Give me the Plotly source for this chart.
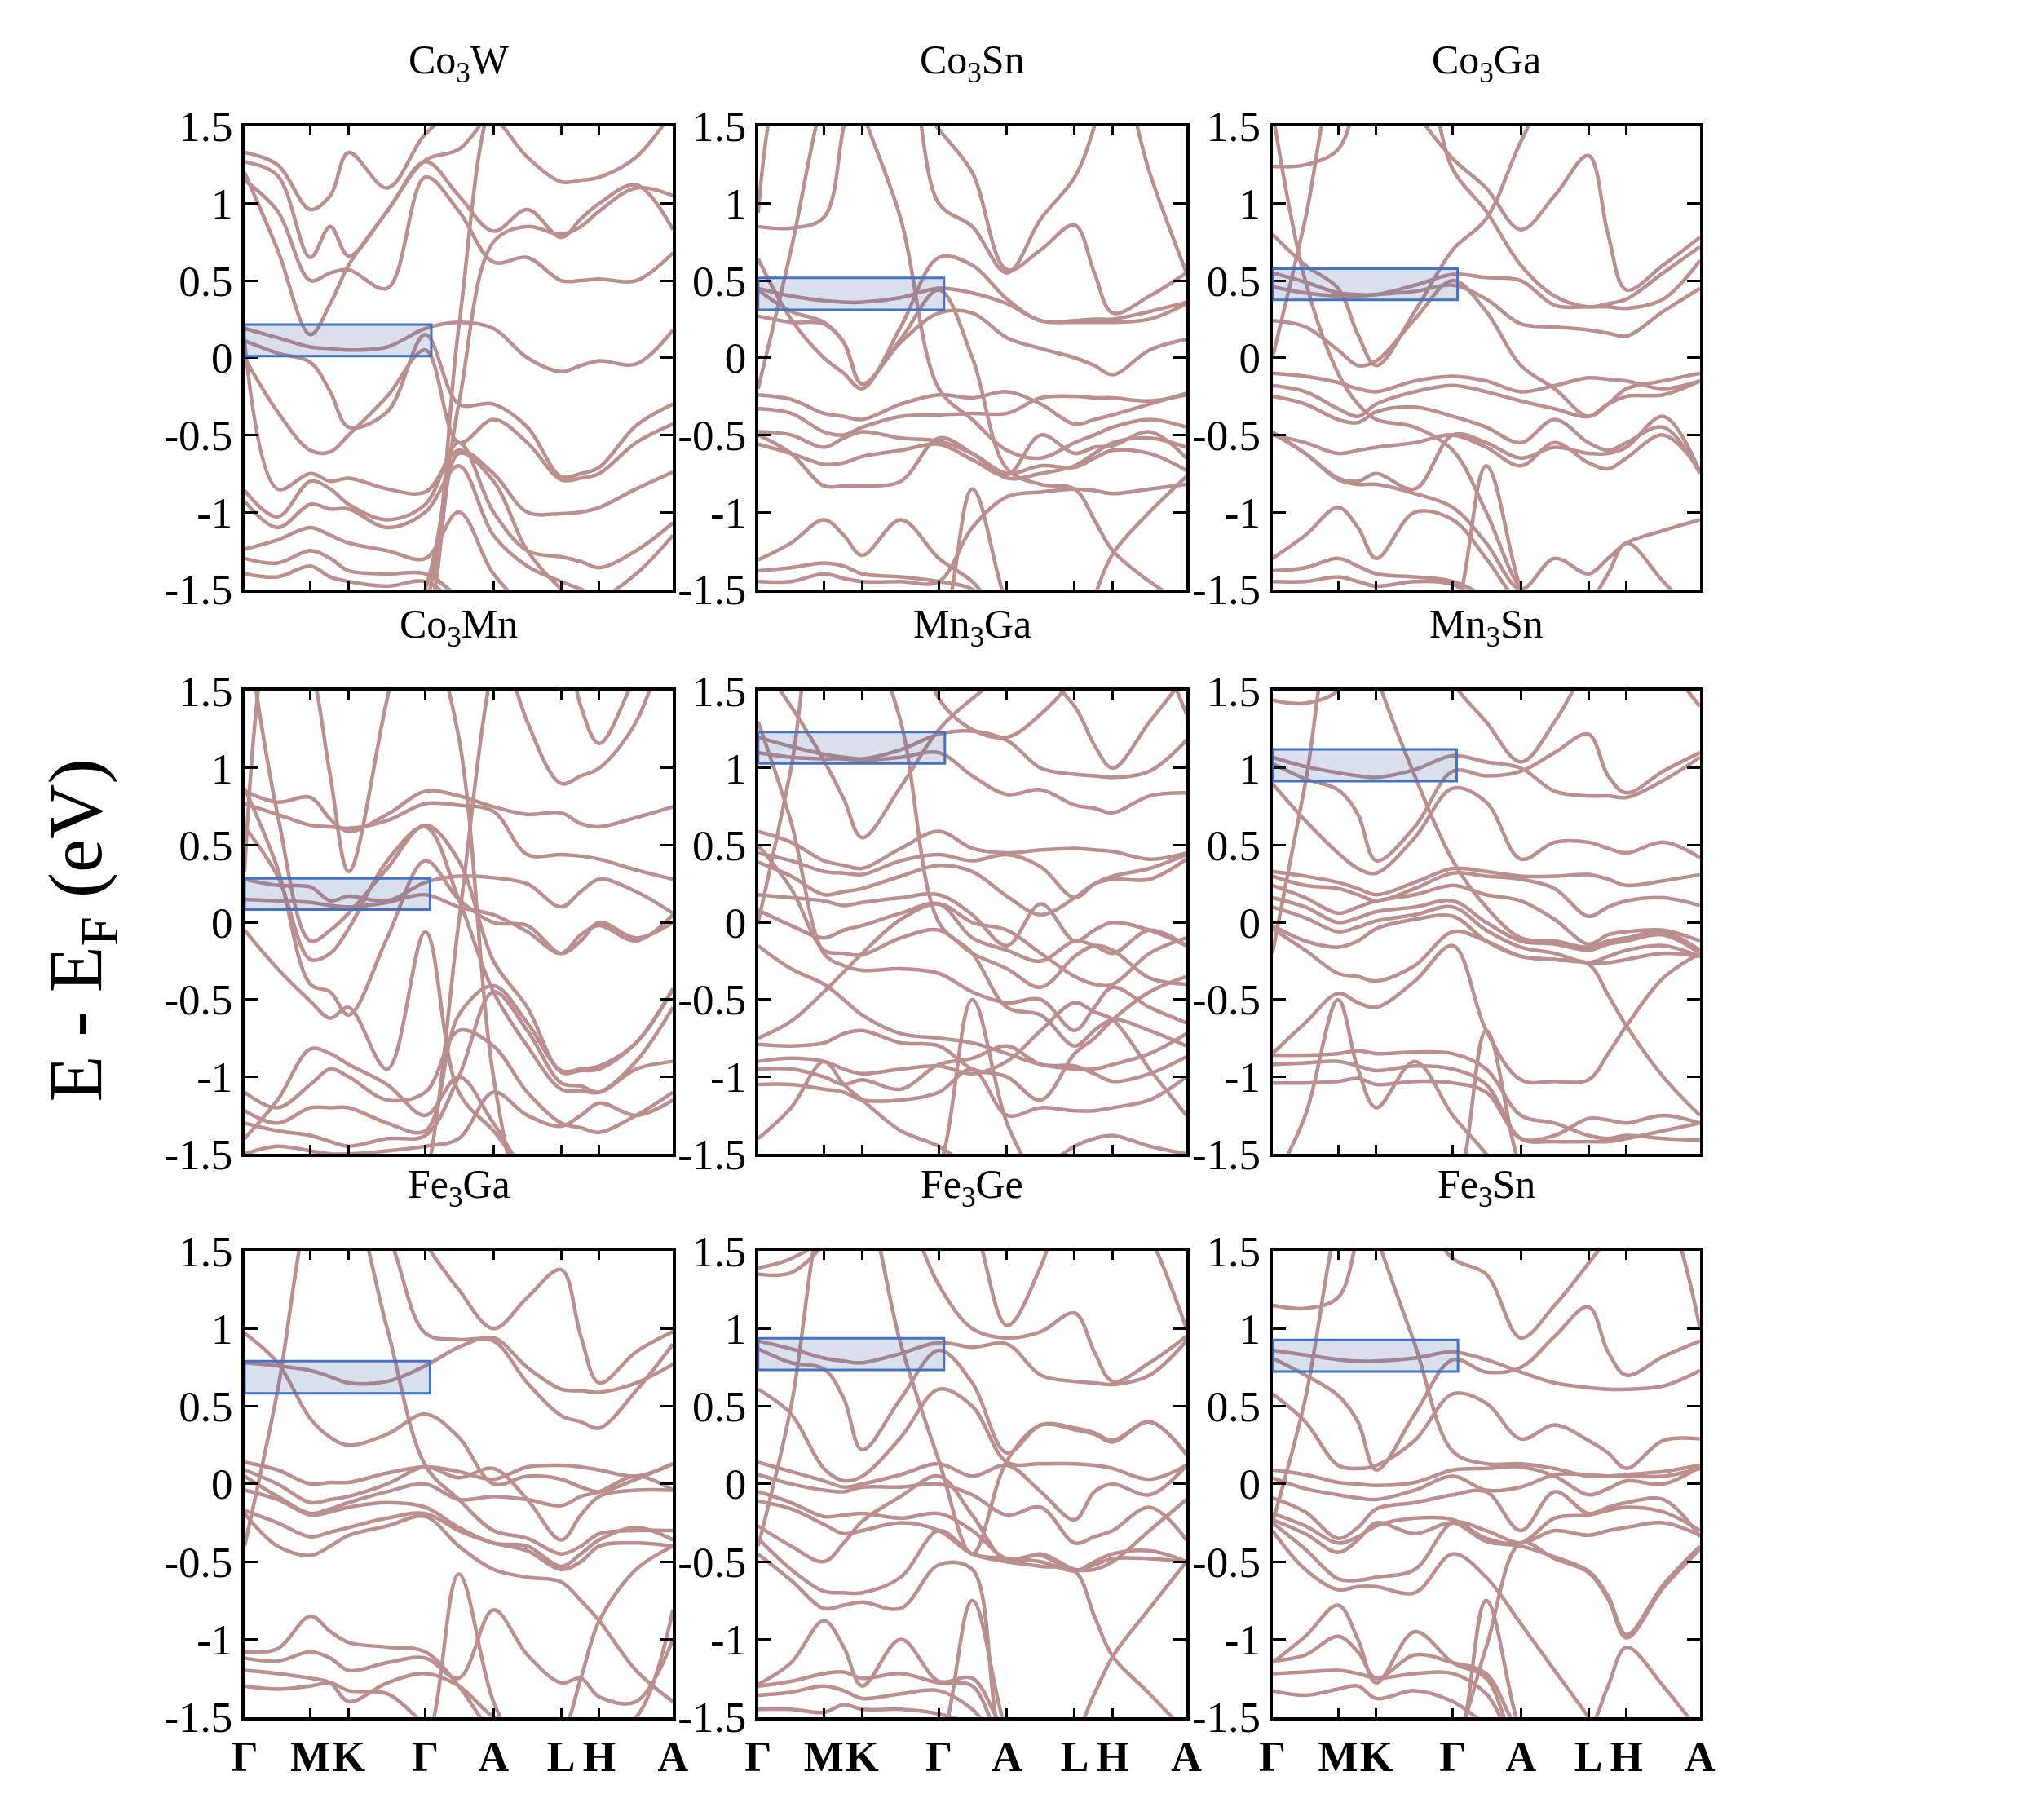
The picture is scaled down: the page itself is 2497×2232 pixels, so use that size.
import plotly.graph_objects as go

# k-path sample points (fraction of path), high-symmetry ticks
kpath = [0, 0.077, 0.1535, 0.2, 0.243, 0.333, 0.422, 0.5, 0.581, 0.66, 0.739, 0.785, 0.828, 0.914, 1.0]
ktick = [0, 0.1535, 0.243, 0.422, 0.581, 0.739, 0.828, 1.0]
klabel = ["Γ", "M", "K", "Γ", "A", "L", "H", "A"]
etick = [-1.5, -1, -0.5, 0, 0.5, 1, 1.5]
elabel = ["-1.5", "-1", "-0.5", "0", "0.5", "1", "1.5"]

titles = ["Co<sub>3</sub>W", "Co<sub>3</sub>Sn", "Co<sub>3</sub>Ga",
          "Co<sub>3</sub>Mn", "Mn<sub>3</sub>Ga", "Mn<sub>3</sub>Sn",
          "Fe<sub>3</sub>Ga", "Fe<sub>3</sub>Ge", "Fe<sub>3</sub>Sn"]

# highlighted box per panel: (k right edge, E bottom, E top)
box_k = [0.436, 0.434, 0.433, 0.433, 0.436, 0.431, 0.433, 0.434, 0.434]
box_lo = [0.01, 0.31, 0.375, 0.083, 1.03, 0.915, 0.583, 0.734, 0.724]
box_hi = [0.215, 0.518, 0.577, 0.285, 1.234, 1.122, 0.79, 0.937, 0.927]

# ---- band energies (eV) at kpath ----
co3w = [
    [1.33, 1.25, 0.96, 1.05, 1.33, 1.10, 1.45, 1.60, 1.55, 1.30, 1.14, 1.15, 1.17, 1.30, 1.60],
    [1.27, 1.18, 0.65, 0.85, 0.66, 0.95, 1.27, 1.05, 0.82, 0.96, 0.78, 0.90, 1.00, 1.12, 0.83],
    [1.15, 0.95, 0.50, 0.55, 0.57, 0.45, 1.17, 0.95, 0.62, 0.65, 0.50, 0.50, 0.51, 0.50, 0.68],
    [1.20, 0.70, 0.15, 0.35, 0.60, 0.95, 1.28, 1.35, 1.60, 1.70, 1.70, 1.70, 1.70, 1.70, 1.70],
    [0.19, 0.13, 0.07, 0.06, 0.05, 0.07, 0.19, 0.23, 0.19, 0.00, -0.09, -0.05, -0.02, -0.04, 0.18],
    [0.11, 0.03, -0.03, -0.22, -0.45, -0.35, 0.15, -0.30, -0.30, -0.45, -0.77, -0.75, -0.71, -0.44, -0.30],
    [0.00, -0.35, -0.60, -0.61, -0.50, -0.25, 0.05, -0.55, -0.40, -0.55, -0.79, -0.78, -0.75, -0.55, -0.43],
    [0.10, -0.85, -0.75, -0.80, -0.78, -0.85, -0.87, -0.60, -0.75, -1.00, -1.01, -1.00, -0.97, -0.85, -0.74],
    [-0.86, -1.03, -0.80, -0.85, -0.95, -1.05, -0.95, -0.55, -1.00, -1.25, -1.29, -1.32, -1.36, -1.25, -1.07],
    [-0.93, -1.10, -0.95, -0.98, -0.98, -1.10, -1.00, -0.70, -1.15, -1.35, -1.45, -1.50, -1.55, -1.40, -1.15],
    [-1.24, -1.18, -1.10, -1.15, -1.20, -1.25, -1.30, -1.00, -1.40, -1.60, -1.60, -1.60, -1.60, -1.60, -1.60],
    [-1.30, -1.33, -1.25, -1.30, -1.38, -1.40, -1.40, -1.55, -1.70, -1.70, -1.70, -1.70, -1.70, -1.70, -1.70],
    [-1.40, -1.42, -1.35, -1.42, -1.45, -1.48, -1.45, -1.60, -1.70, -1.70, -1.70, -1.70, -1.70, -1.70, -1.70],
    [-2.0, -2.0, -2.0, -2.0, -2.0, -2.0, -1.60, 0.20, 1.70, 2.0, 2.0, 2.0, 2.0, 2.0, 2.0],
    [-2.0, -2.0, -2.0, -2.0, -2.0, -2.0, -1.50, -0.30, 0.75, 0.85, 0.80, 0.85, 0.95, 1.10, 1.05],
    [-1.9, -1.9, -1.9, -1.9, -1.9, -1.9, -1.70, -0.62, -0.80, -1.25, -1.50, -1.60, -1.70, -1.70, -1.70],
]

co3sn = [
    [0.45, 0.40, 0.37, 0.36, 0.36, 0.39, 0.45, 0.42, 0.35, 0.24, 0.23, 0.23, 0.23, 0.25, 0.35],
    [0.44, 0.30, 0.23, 0.10, -0.17, 0.12, 0.44, 0.00, -0.72, -0.82, -0.85, -1.05, -1.25, -1.45, -1.60],
    [0.85, 0.84, 0.91, 1.50, 2.00, 2.00, 2.00, 1.80, 1.60, 1.80, 2.00, 2.00, 2.00, 2.00, 2.00],
    [0.27, 0.23, 0.22, 0.10, -0.17, 0.10, 0.29, 0.29, 0.13, 0.06, 0.00, -0.05, -0.11, 0.05, 0.12],
    [0.64, 0.25, 0.00, -0.10, -0.20, 0.20, 0.65, 0.60, 0.38, 0.24, 0.24, 0.25, 0.25, 0.30, 0.36],
    [-0.24, -0.27, -0.36, -0.38, -0.40, -0.30, -0.24, -0.26, -0.22, -0.30, -0.43, -0.40, -0.37, -0.30, -0.23],
    [-0.33, -0.36, -0.48, -0.50, -0.45, -0.38, -0.37, -0.36, -0.36, -0.26, -0.25, -0.26, -0.26, -0.28, -0.24],
    [-0.48, -0.50, -0.58, -0.52, -0.48, -0.52, -0.54, -0.62, -0.75, -0.70, -0.71, -0.65, -0.60, -0.62, -0.73],
    [-0.56, -0.62, -0.69, -0.68, -0.64, -0.60, -0.56, -0.66, -0.76, -0.50, -0.62, -0.58, -0.57, -0.48, -0.65],
    [-0.50, -0.62, -0.83, -0.83, -0.83, -0.80, -0.52, -0.62, -0.78, -0.75, -0.70, -0.62, -0.55, -0.52, -0.58],
    [-1.31, -1.20, -1.05, -1.15, -1.28, -1.05, -1.30, -1.45, -1.70, -1.70, -1.70, -1.70, -1.70, -1.70, -1.70],
    [-1.38, -1.36, -1.33, -1.35, -1.40, -1.42, -1.45, -1.50, -1.70, -1.70, -1.90, -1.55, -1.27, -1.00, -0.77],
    [-1.45, -1.45, -1.40, -1.43, -1.45, -1.45, -1.45, -1.10, -0.90, -0.87, -0.85, -0.86, -0.88, -0.85, -0.82],
    [-0.20, 0.70, 1.70, 2.00, 2.00, 2.00, 2.00, 2.00, 2.00, 2.00, 2.00, 2.00, 2.00, 2.00, 2.00],
    [2.00, 2.00, 2.00, 2.00, 1.60, 0.90, -0.20, -0.40, -0.60, -0.65, -0.55, -0.50, -0.45, -0.40, -0.45],
    [2.00, 2.00, 2.00, 2.00, 2.00, 1.80, 1.48, 1.20, 0.57, 0.70, 0.86, 0.55, 0.29, 0.40, 0.55],
    [1.60, 1.90, 2.00, 2.00, 2.00, 2.00, 1.00, 0.85, 0.55, 0.90, 1.17, 1.50, 2.00, 1.20, 0.55],
    [0.94, 2.00, 2.00, 2.00, 2.00, 2.00, 2.00, 2.00, 2.00, 2.00, 2.00, 2.00, 2.00, 2.00, 2.00],
    [-2.0, -2.0, -2.0, -2.0, -2.0, -2.0, -1.80, -0.85, -1.60, -2.0, -2.0, -2.0, -2.0, -2.0, -2.0],
]

co3ga = [
    [0.55, 0.49, 0.42, 0.41, 0.41, 0.47, 0.54, 0.52, 0.50, 0.34, 0.33, 0.33, 0.32, 0.38, 0.63],
    [0.46, 0.42, 0.40, 0.40, 0.41, 0.43, 0.47, 0.38, 0.22, 0.20, 0.18, 0.16, 0.14, 0.30, 0.45],
    [0.24, 0.20, 0.05, -0.05, -0.02, 0.25, 0.50, 0.30, -0.05, -0.20, -0.38, -0.30, -0.20, -0.15, -0.10],
    [-0.10, -0.12, -0.16, -0.20, -0.22, -0.15, -0.12, -0.15, -0.22, -0.18, -0.13, -0.14, -0.15, -0.20, -0.15],
    [-0.18, -0.22, -0.33, -0.38, -0.30, -0.22, -0.18, -0.22, -0.28, -0.33, -0.38, -0.30, -0.25, -0.24, -0.15],
    [-0.25, -0.30, -0.40, -0.42, -0.35, -0.32, -0.38, -0.45, -0.55, -0.40, -0.55, -0.60, -0.55, -0.45, -0.75],
    [-0.50, -0.55, -0.62, -0.60, -0.58, -0.55, -0.50, -0.58, -0.70, -0.55, -0.68, -0.72, -0.65, -0.50, -0.73],
    [-0.48, -0.62, -0.78, -0.80, -0.75, -0.85, -0.50, -0.55, -0.65, -0.58, -0.62, -0.62, -0.58, -0.38, -0.74],
    [-0.49, -0.62, -0.79, -0.82, -0.82, -0.88, -0.97, -1.20, -1.50, -1.30, -1.40, -1.30, -1.20, -1.12, -1.05],
    [-1.30, -1.15, -0.97, -1.10, -1.30, -1.00, -1.05, -1.30, -1.60, -1.70, -1.70, -1.70, -1.70, -1.70, -1.70],
    [-1.38, -1.36, -1.30, -1.35, -1.40, -1.42, -1.45, -1.55, -1.70, -1.80, -1.60, -1.40, -1.20, -1.45, -1.70],
    [-1.45, -1.45, -1.42, -1.45, -1.48, -1.45, -1.47, -1.60, -1.70, -1.70, -1.70, -1.70, -1.70, -1.70, -1.70],
    [1.24, 1.25, 1.35, 1.70, 2.00, 2.00, 2.00, 2.00, 2.00, 2.00, 2.00, 2.00, 2.00, 2.00, 2.00],
    [1.60, 0.50, -0.10, -0.30, -0.40, -0.45, -0.60, -1.00, -1.50, -1.70, -1.70, -1.70, -1.70, -1.70, -1.70],
    [0.00, 0.90, 1.90, 2.00, 2.00, 2.00, 2.00, 2.00, 2.00, 2.00, 2.00, 2.00, 2.00, 2.00, 2.00],
    [2.00, 2.00, 2.00, 2.00, 2.00, 1.60, 1.29, 1.10, 0.83, 1.05, 1.31, 0.80, 0.44, 0.60, 0.78],
    [2.00, 2.00, 2.00, 2.00, 2.00, 2.00, 1.22, 0.95, 0.60, 0.40, 0.33, 0.35, 0.38, 0.55, 0.72],
    [0.80, 0.60, 0.45, 0.15, -0.05, 0.30, 0.70, 0.90, 1.40, 1.80, 2.00, 2.00, 2.00, 2.00, 2.00],
    [-2.0, -2.0, -2.0, -2.0, -2.0, -2.0, -1.70, -0.70, -1.50, -2.0, -2.0, -2.0, -2.0, -2.0, -2.0],
]

co3mn = [
    [0.28, 0.24, 0.23, 0.14, 0.17, 0.14, 0.26, 0.30, 0.29, 0.25, 0.10, 0.20, 0.28, 0.20, 0.06],
    [0.15, 0.14, 0.13, 0.11, 0.10, 0.13, 0.18, 0.10, 0.05, -0.06, -0.20, -0.08, -0.02, -0.12, 0.05],
    [0.85, 0.78, 0.81, 0.67, 0.59, 0.70, 0.85, 0.82, 0.75, 0.70, 0.71, 0.64, 0.62, 0.68, 0.75],
    [0.77, 0.70, 0.63, 0.62, 0.61, 0.66, 0.77, 0.76, 0.72, 0.44, 0.44, 0.43, 0.41, 0.34, 0.28],
    [3.00, 2.30, 1.70, 0.95, 0.33, 1.45, 2.50, 2.50, 2.50, 2.50, 2.50, 2.50, 2.50, 2.50, 2.50],
    [0.33, 2.20, 2.50, 2.50, 2.50, 2.50, 2.50, 2.50, 2.50, 2.50, 2.50, 2.50, 2.50, 2.50, 2.50],
    [2.00, 0.70, -0.12, -0.05, 0.06, 0.35, 0.63, 0.40, -0.25, -0.55, -0.97, -0.96, -0.95, -0.78, -0.43],
    [0.62, 0.30, -0.24, -0.20, -0.04, 0.40, 0.62, 0.15, -0.45, -0.80, -1.08, -1.09, -1.10, -0.90, -0.55],
    [0.87, 0.35, -0.40, -0.45, -0.60, -0.10, 0.40, 0.15, 0.00, -0.02, -0.20, -0.12, 0.00, -0.10, 0.00],
    [-0.05, -0.30, -0.51, -0.62, -0.55, -0.95, -0.06, -1.10, -1.35, -1.60, -1.60, -1.60, -1.60, -1.60, -1.60],
    [-1.40, -1.15, -0.82, -0.85, -0.92, -1.05, -1.25, -1.00, -1.30, -1.60, -1.60, -1.60, -1.60, -1.60, -1.60],
    [-1.10, -1.20, -1.05, -0.95, -1.00, -1.15, -1.10, -0.70, -0.80, -1.10, -1.30, -1.33, -1.36, -1.25, -1.10],
    [-1.22, -1.30, -1.20, -1.20, -1.20, -1.30, -1.35, -0.60, -0.41, -0.65, -0.96, -0.95, -0.93, -0.78, -0.43],
    [-1.30, -1.35, -1.38, -1.42, -1.45, -1.40, -1.38, -1.00, -0.45, -0.70, -1.04, -1.06, -1.10, -0.95, -0.90],
    [-1.50, -1.45, -1.48, -1.50, -1.50, -1.48, -1.45, -1.40, -1.10, -1.25, -1.32, -1.25, -1.17, -1.25, -1.15],
    [-2.5, -2.5, -2.5, -2.5, -2.5, -2.5, -1.70, 0.00, 1.70, 2.50, 2.50, 2.50, 2.50, 2.50, 2.50],
    [2.5, 2.5, 2.5, 2.5, 2.5, 2.5, 2.00, 1.20, -1.00, -2.00, -2.50, -2.50, -2.50, -2.50, -2.50],
    [2.5, 2.5, 2.5, 2.5, 2.5, 2.5, 2.50, 2.50, 2.00, 1.30, 0.90, 0.95, 1.00, 1.30, 2.00],
    [2.5, 2.5, 2.5, 2.5, 2.5, 2.5, 2.50, 2.50, 2.50, 2.50, 2.00, 1.40, 1.16, 1.60, 2.00],
]

mn3ga = [
    [1.20, 1.14, 1.09, 1.07, 1.06, 1.12, 1.22, 1.24, 1.18, 1.00, 0.96, 0.95, 0.94, 0.98, 1.18],
    [1.10, 1.07, 1.06, 1.06, 1.05, 1.07, 1.10, 0.95, 0.83, 0.86, 0.76, 0.74, 0.71, 0.82, 0.84],
    [1.70, 1.40, 1.05, 0.80, 0.55, 0.88, 1.25, 1.45, 1.60, 1.60, 1.40, 1.15, 1.00, 1.30, 1.60],
    [0.59, 0.52, 0.40, 0.37, 0.35, 0.48, 0.59, 0.48, 0.45, 0.47, 0.48, 0.47, 0.46, 0.41, 0.45],
    [0.45, 0.40, 0.33, 0.32, 0.31, 0.40, 0.44, 0.40, 0.44, 0.36, 0.16, 0.25, 0.30, 0.35, 0.44],
    [0.39, 0.30, 0.18, 0.20, 0.22, 0.30, 0.37, 0.33, 0.17, 0.05, 0.16, 0.25, 0.28, 0.28, 0.41],
    [0.18, 0.16, 0.14, 0.11, 0.13, 0.16, 0.18, 0.05, -0.15, 0.12, -0.12, -0.05, 0.00, -0.05, -0.15],
    [0.08, -0.02, -0.10, -0.05, -0.02, 0.06, 0.12, -0.10, -0.18, -0.25, -0.12, -0.15, -0.20, -0.05, -0.15],
    [0.50, 0.22, -0.18, -0.20, -0.21, -0.10, -0.05, -0.20, -0.30, -0.42, -0.22, -0.15, -0.18, -0.36, -0.40],
    [1.30, 0.65, -0.20, -0.28, -0.31, -0.30, -0.33, -0.45, -0.52, -0.50, -0.70, -0.55, -0.42, -0.55, -0.65],
    [-0.75, -0.64, -0.45, -0.32, -0.20, 0.02, 0.12, 0.00, -0.05, -0.20, -0.35, -0.40, -0.40, -0.20, -0.10],
    [-0.15, -0.30, -0.40, -0.50, -0.60, -0.72, -0.75, -0.78, -0.85, -0.92, -0.95, -0.95, -0.92, -0.85, -0.72],
    [-0.79, -0.80, -0.78, -0.72, -0.70, -0.78, -0.80, -0.95, -1.00, -1.15, -0.85, -0.75, -0.63, -0.45, -0.35],
    [-0.90, -0.88, -0.90, -0.95, -0.98, -0.95, -0.93, -0.98, -0.90, -0.70, -0.52, -0.58, -0.63, -0.95, -1.25],
    [-0.95, -0.95, -1.00, -1.05, -1.02, -1.08, -0.92, -0.88, -0.80, -0.92, -0.93, -0.98, -1.03, -0.98, -0.87],
    [-1.05, -1.05, -1.08, -1.10, -1.15, -1.15, -1.10, -0.95, -1.25, -1.20, -1.22, -1.22, -1.20, -1.15, -1.00],
    [-1.40, -1.20, -0.90, -1.05, -1.15, -1.35, -1.45, -1.60, -1.70, -1.60, -1.45, -1.40, -1.38, -1.45, -1.50],
    [-2.0, -2.0, -2.0, -2.0, -2.0, -2.0, -1.60, -0.50, -1.30, -1.70, -1.90, -1.90, -1.90, -1.90, -1.90],
    [0.00, 1.00, 2.20, 2.20, 2.20, 2.20, 2.20, 2.20, 2.20, 2.20, 2.20, 2.20, 2.20, 2.20, 2.20],
    [2.20, 2.20, 2.20, 2.20, 2.00, 1.30, 0.00, -0.20, -0.55, -0.60, -0.80, -0.70, -0.63, -0.70, -0.80],
    [2.20, 2.20, 2.20, 2.20, 2.20, 2.20, 1.45, 1.25, 1.20, 1.35, 1.60, 1.90, 1.90, 1.80, 1.35],
]

mn3sn = [
    [1.07, 1.01, 0.97, 0.95, 0.94, 0.99, 1.08, 1.04, 1.00, 0.85, 0.82, 0.82, 0.81, 0.92, 1.07],
    [1.03, 0.93, 0.86, 0.70, 0.40, 0.62, 0.98, 0.95, 0.98, 1.10, 1.22, 0.95, 0.84, 0.98, 1.10],
    [0.90, 0.66, 0.45, 0.35, 0.32, 0.55, 0.87, 0.78, 0.41, 0.52, 0.52, 0.48, 0.45, 0.52, 0.42],
    [0.33, 0.30, 0.26, 0.22, 0.18, 0.26, 0.35, 0.33, 0.30, 0.30, 0.31, 0.28, 0.24, 0.27, 0.31],
    [0.30, 0.24, 0.22, 0.18, 0.14, 0.22, 0.32, 0.30, 0.28, 0.22, 0.04, 0.10, 0.14, 0.16, 0.11],
    [0.24, 0.16, 0.06, 0.10, 0.14, 0.18, 0.24, 0.18, 0.14, 0.02, -0.14, -0.08, -0.06, -0.05, -0.12],
    [0.16, 0.10, 0.00, 0.03, 0.07, 0.10, 0.14, 0.00, -0.12, -0.14, -0.18, -0.14, -0.12, -0.08, -0.20],
    [0.10, 0.03, -0.06, -0.03, 0.01, 0.05, 0.10, -0.05, -0.16, -0.20, -0.26, -0.22, -0.18, -0.15, -0.22],
    [-0.02, -0.12, -0.16, -0.12, -0.04, 0.02, 0.04, -0.12, -0.22, -0.24, -0.26, -0.26, -0.24, -0.20, -0.22],
    [-0.04, -0.18, -0.33, -0.35, -0.38, -0.28, -0.06, -0.12, -0.22, -0.24, -0.27, -0.47, -0.67, -1.00, -1.25],
    [-0.85, -0.65, -0.46, -0.52, -0.55, -0.38, -0.15, -0.70, -1.02, -1.03, -1.02, -0.85, -0.67, -0.36, -0.20],
    [-0.86, -0.86, -0.85, -0.83, -0.85, -0.84, -0.85, -0.95, -1.25, -1.30, -1.38, -1.40, -1.38, -1.40, -1.41],
    [-0.92, -0.91, -0.90, -0.93, -0.96, -0.93, -0.95, -1.05, -1.40, -1.42, -1.42, -1.42, -1.40, -1.35, -1.30],
    [-1.04, -1.04, -1.03, -1.01, -1.05, -1.03, -1.04, -1.10, -1.40, -1.38, -1.27, -1.28, -1.30, -1.25, -1.30],
    [-1.70, -1.25, -0.50, -0.95, -1.20, -0.90, -1.25, -1.50, -1.80, -1.80, -1.80, -1.80, -1.80, -1.80, -1.80],
    [-2.0, -2.0, -2.0, -2.0, -2.0, -2.0, -1.80, -0.70, -1.60, -2.0, -2.0, -2.0, -2.0, -2.0, -2.0],
    [-0.20, 0.90, 2.00, 2.00, 2.00, 2.00, 2.00, 2.00, 2.00, 2.00, 2.00, 2.00, 2.00, 2.00, 2.00],
    [2.00, 2.00, 2.00, 2.00, 1.60, 0.95, 0.40, 0.10, -0.10, -0.12, -0.16, -0.12, -0.10, -0.06, -0.18],
    [1.44, 1.42, 1.50, 1.70, 2.00, 2.00, 2.00, 2.00, 2.00, 2.00, 2.00, 2.00, 2.00, 2.00, 2.00],
    [2.00, 2.00, 2.00, 2.00, 2.00, 2.00, 1.55, 1.30, 1.04, 1.30, 1.70, 2.00, 2.00, 1.70, 1.40],
]

fe3ga = [
    [0.78, 0.76, 0.73, 0.69, 0.65, 0.66, 0.76, 0.88, 0.94, 0.75, 0.61, 0.60, 0.59, 0.65, 0.77],
    [0.97, 0.78, 0.42, 0.30, 0.25, 0.32, 0.45, 0.30, 0.00, 0.05, 0.03, -0.02, -0.05, 0.03, 0.13],
    [0.14, 0.09, 0.00, 0.01, 0.01, 0.07, 0.11, 0.08, 0.03, 0.11, 0.12, 0.11, 0.09, 0.05, 0.13],
    [0.09, 0.00, -0.12, -0.10, -0.08, 0.00, 0.11, 0.04, 0.10, -0.10, -0.36, -0.20, -0.08, -0.04, -0.04],
    [0.05, -0.08, -0.19, -0.16, -0.12, -0.05, 0.00, -0.10, -0.08, -0.10, -0.14, -0.08, -0.05, 0.05, -0.04],
    [-0.04, -0.10, -0.20, -0.18, -0.15, -0.12, -0.15, -0.28, -0.38, -0.40, -0.53, -0.45, -0.36, -0.28, -0.36],
    [-0.17, -0.25, -0.34, -0.31, -0.28, -0.22, -0.19, -0.30, -0.38, -0.43, -0.55, -0.50, -0.40, -0.38, -0.40],
    [-0.19, -0.40, -0.46, -0.40, -0.33, -0.27, -0.21, -0.40, -0.55, -0.60, -0.63, -0.75, -0.88, -1.20, -1.40],
    [-1.08, -1.06, -0.85, -0.95, -1.02, -1.05, -1.08, -1.30, -1.60, -1.70, -1.60, -1.25, -0.88, -0.55, -0.40],
    [-1.12, -1.14, -1.08, -1.12, -1.20, -1.15, -1.12, -1.25, -0.81, -1.10, -1.28, -1.25, -1.37, -1.40, -1.00],
    [-1.20, -1.22, -1.25, -1.28, -1.40, -1.28, -1.22, -1.30, -1.50, -1.60, -1.70, -1.70, -1.60, -1.50, -0.81],
    [-1.30, -1.32, -1.30, -1.28, -1.33, -1.35, -1.55, -1.70, -1.70, -1.70, -1.70, -1.70, -1.70, -1.70, -1.70],
    [-2.0, -2.0, -2.0, -2.0, -2.0, -2.0, -1.70, -0.58, -1.40, -1.80, -2.0, -2.0, -2.0, -2.0, -2.0],
    [-0.40, 0.60, 1.80, 2.00, 2.00, 2.00, 2.00, 2.00, 2.00, 2.00, 2.00, 2.00, 2.00, 2.00, 2.00],
    [2.00, 2.00, 2.00, 2.00, 1.90, 1.00, 0.12, -0.10, -0.30, -0.35, -0.45, -0.40, -0.32, -0.30, -0.30],
    [2.00, 2.00, 2.00, 2.00, 2.00, 2.00, 1.55, 1.25, 1.00, 1.20, 1.38, 0.95, 0.65, 0.85, 0.98],
    [1.90, 1.90, 1.90, 1.90, 1.90, 1.60, 0.97, 0.93, 0.92, 0.65, 0.44, 0.40, 0.36, 0.60, 0.90],
]

fe3ge = [
    [0.92, 0.87, 0.81, 0.79, 0.78, 0.84, 0.91, 0.88, 0.90, 0.70, 0.66, 0.65, 0.64, 0.70, 0.92],
    [0.87, 0.78, 0.74, 0.55, 0.22, 0.55, 0.86, 0.65, 0.20, 0.38, 0.35, 0.32, 0.27, 0.40, 0.19],
    [0.61, 0.45, 0.10, 0.02, 0.05, 0.30, 0.61, 0.50, 0.14, 0.13, 0.13, 0.12, 0.10, 0.03, 0.12],
    [0.14, 0.08, 0.02, -0.02, 0.00, 0.06, 0.13, 0.05, 0.12, -0.05, -0.23, -0.05, 0.00, -0.07, 0.12],
    [0.06, 0.00, -0.04, -0.05, -0.02, -0.02, 0.00, -0.07, -0.20, -0.15, -0.38, -0.34, -0.30, -0.15, -0.36],
    [-0.05, -0.12, -0.21, -0.20, -0.19, -0.22, -0.19, -0.30, -0.48, -0.46, -0.56, -0.50, -0.45, -0.43, -0.50],
    [-0.11, -0.16, -0.26, -0.32, -0.30, -0.25, -0.30, -0.45, -0.48, -0.50, -0.56, -0.52, -0.48, -0.48, -0.50],
    [-0.27, -0.40, -0.50, -0.38, -0.24, -0.08, 0.05, -0.20, -0.50, -0.45, -0.55, -0.55, -0.50, -0.30, -0.10],
    [-0.35, -0.55, -0.69, -0.70, -0.70, -0.60, -0.30, -0.45, -0.50, -0.53, -0.56, -0.85, -1.11, -1.35, -1.60],
    [-0.45, -0.62, -0.80, -0.78, -0.76, -0.80, -0.52, -0.55, -1.70, -1.70, -1.60, -1.35, -1.11, -0.80, -0.50],
    [-1.29, -1.15, -0.88, -1.05, -1.30, -1.00, -1.27, -1.25, -1.60, -1.70, -1.70, -1.70, -1.70, -1.70, -1.70],
    [-1.30, -1.27, -1.22, -1.21, -1.25, -1.22, -1.28, -1.30, -1.70, -1.70, -1.70, -1.70, -1.70, -1.70, -1.70],
    [-1.36, -1.34, -1.30, -1.33, -1.38, -1.35, -1.33, -1.45, -1.70, -1.70, -1.70, -1.70, -1.70, -1.70, -1.70],
    [-1.45, -1.45, -1.47, -1.42, -1.45, -1.45, -1.48, -1.55, -1.70, -1.70, -1.70, -1.70, -1.70, -1.70, -1.70],
    [-2.0, -2.0, -2.0, -2.0, -2.0, -2.0, -1.70, -0.75, -1.60, -2.0, -2.0, -2.0, -2.0, -2.0, -2.0],
    [-0.40, 0.50, 1.80, 2.00, 2.00, 2.00, 2.00, 2.00, 2.00, 2.00, 2.00, 2.00, 2.00, 2.00, 2.00],
    [1.39, 1.45, 1.60, 2.00, 2.00, 2.00, 2.00, 2.00, 2.00, 2.00, 2.00, 2.00, 2.00, 2.00, 2.00],
    [1.35, 1.36, 1.55, 1.80, 2.00, 2.00, 2.00, 2.00, 2.00, 2.00, 2.00, 2.00, 2.00, 2.00, 2.00],
    [2.00, 2.00, 2.00, 2.00, 1.90, 0.90, 0.15, -0.45, 0.15, 0.38, 0.36, 0.33, 0.28, 0.40, 0.19],
    [2.00, 2.00, 2.00, 2.00, 2.00, 1.80, 1.28, 1.00, 0.94, 0.98, 1.10, 0.85, 0.66, 0.78, 0.95],
    [2.00, 2.00, 2.00, 2.00, 2.00, 2.00, 2.00, 1.70, 1.02, 1.40, 2.00, 2.00, 2.00, 1.60, 1.00],
]

fe3sn = [
    [0.86, 0.83, 0.80, 0.79, 0.79, 0.81, 0.85, 0.80, 0.72, 0.65, 0.62, 0.61, 0.61, 0.63, 0.73],
    [0.81, 0.70, 0.57, 0.40, 0.09, 0.45, 0.80, 0.72, 0.75, 0.95, 1.14, 0.85, 0.70, 0.82, 0.92],
    [0.58, 0.40, 0.12, 0.10, 0.12, 0.28, 0.58, 0.52, 0.29, 0.38, 0.28, 0.20, 0.10, 0.28, 0.29],
    [0.09, 0.06, 0.01, 0.00, -0.01, 0.01, 0.09, 0.10, 0.11, 0.05, -0.07, -0.03, 0.02, 0.00, 0.11],
    [0.04, -0.03, -0.07, -0.09, -0.10, -0.04, 0.05, -0.04, -0.02, 0.06, 0.06, 0.05, 0.05, 0.05, 0.10],
    [-0.09, -0.18, -0.35, -0.28, -0.16, -0.12, -0.07, -0.05, -0.30, -0.05, -0.19, -0.15, -0.12, -0.10, -0.34],
    [-0.19, -0.27, -0.38, -0.34, -0.27, -0.22, -0.23, -0.35, -0.38, -0.22, -0.20, -0.17, -0.15, -0.18, -0.30],
    [-0.23, -0.32, -0.44, -0.36, -0.25, -0.32, -0.25, -0.37, -0.40, -0.47, -0.56, -0.72, -0.97, -0.65, -0.40],
    [-0.25, -0.42, -0.61, -0.62, -0.60, -0.55, -0.25, -0.30, -0.38, -0.30, -0.33, -0.30, -0.28, -0.25, -0.33],
    [-0.30, -0.55, -0.68, -0.66, -0.66, -0.70, -0.45, -0.60, -0.90, -1.20, -1.50, -1.70, -1.70, -1.70, -1.70],
    [-1.15, -0.98, -0.78, -1.00, -1.28, -0.95, -1.15, -1.25, -1.70, -1.70, -1.70, -1.70, -1.70, -1.70, -1.70],
    [-1.14, -1.10, -0.98, -1.08, -1.25, -1.10, -1.15, -1.22, -1.60, -1.70, -1.70, -1.70, -1.70, -1.70, -1.70],
    [-1.22, -1.21, -1.20, -1.22, -1.25, -1.22, -1.22, -1.35, -1.70, -1.70, -1.70, -1.70, -1.70, -1.70, -1.70],
    [-1.33, -1.36, -1.32, -1.30, -1.38, -1.33, -1.40, -1.55, -1.70, -1.70, -1.70, -1.70, -1.70, -1.70, -1.70],
    [-2.0, -2.0, -2.0, -2.0, -2.0, -2.0, -1.70, -1.05, -0.38, -0.48, -0.57, -0.74, -0.99, -0.67, -0.42],
    [-1.8, -1.8, -1.8, -1.8, -1.8, -1.8, -1.80, -1.80, -1.80, -1.80, -1.60, -1.30, -1.05, -1.30, -1.60],
    [1.15, 1.13, 1.20, 1.60, 2.00, 2.00, 2.00, 2.00, 2.00, 2.00, 2.00, 2.00, 2.00, 2.00, 2.00],
    [-0.25, 0.55, 1.70, 2.00, 2.00, 2.00, 2.00, 2.00, 2.00, 2.00, 2.00, 2.00, 2.00, 2.00, 2.00],
    [2.00, 2.00, 2.00, 2.00, 1.60, 0.90, 0.21, 0.13, 0.13, 0.10, 0.05, 0.05, 0.06, 0.08, 0.12],
    [2.00, 2.00, 2.00, 2.00, 2.00, 1.80, 1.45, 1.35, 0.94, 1.15, 1.42, 1.60, 2.00, 1.80, 1.00],
    [-2.0, -2.0, -2.0, -2.0, -2.0, -2.0, -1.80, -0.75, -1.60, -2.0, -2.0, -2.0, -2.0, -2.0, -2.0],
]

panels = [co3w, co3sn, co3ga, co3mn, mn3ga, mn3sn, fe3ga, fe3ge, fe3sn]

# --- layout geometry (pixels of the 2497x2232 page) ---
W, H = 2497, 2232
col_px = [(279, 812), (918, 1451), (1558, 2090)]
row_px = [(122, 705), (833, 1416), (1538, 2125)]

band_color = "#bc8f8f"
serif = "Liberation Serif"

fig = go.Figure()
layout = {}
shapes = []
annotations = []

for i, bands in enumerate(panels):
    r, c = divmod(i, 3)
    n = i + 1
    xa = "x" if n == 1 else f"x{n}"
    ya = "y" if n == 1 else f"y{n}"
    x0, x1 = col_px[c]
    top, bot = row_px[r]

    for b in bands:
        fig.add_trace(go.Scatter(
            x=kpath, y=b, mode="lines", xaxis=xa, yaxis=ya,
            line=dict(color=band_color, width=4.5, shape="spline", smoothing=1.0),
            hoverinfo="skip", showlegend=False))

    layout["xaxis" if n == 1 else f"xaxis{n}"] = dict(
        domain=[x0 / W, x1 / W], anchor=ya, range=[0, 1],
        tickvals=ktick, ticktext=klabel, showticklabels=(r == 2), tickangle=0,
        ticks="inside", ticklen=11, tickwidth=3, tickcolor="black",
        showline=True, linewidth=4, linecolor="black", mirror="ticks",
        showgrid=False, zeroline=False,
        tickfont=dict(family=serif, size=52, color="black", weight="bold"))
    layout["yaxis" if n == 1 else f"yaxis{n}"] = dict(
        domain=[1 - bot / H, 1 - top / H], anchor=xa, range=[-1.5, 1.5],
        tickvals=etick, ticktext=elabel,
        ticks="inside", ticklen=16, tickwidth=3, tickcolor="black",
        showline=True, linewidth=4, linecolor="black", mirror="ticks",
        showgrid=False, zeroline=False,
        tickfont=dict(family=serif, size=53, color="black"))

    shapes.append(dict(
        type="rect", xref=xa, yref=ya, x0=0, x1=box_k[i], y0=box_lo[i], y1=box_hi[i],
        line=dict(color="#4472c4", width=3), fillcolor="rgba(65,95,160,0.2)", layer="above"))

    annotations.append(dict(
        text=titles[i], xref="paper", yref="paper",
        x=(x0 + x1) / 2 / W, y=1 - (top - 80) / H, xanchor="center", yanchor="middle",
        showarrow=False, font=dict(family=serif, size=50, color="black")))

annotations.append(dict(
    text="E - E<sub>F</sub> (eV)", xref="paper", yref="paper",
    x=76 / W, y=1 - 1134 / H, xanchor="center", yanchor="middle", textangle=-90,
    showarrow=False, font=dict(family=serif, size=93, color="black")))

fig.update_layout(
    width=W, height=H,
    margin=dict(l=0, r=0, t=0, b=0),
    paper_bgcolor="white", plot_bgcolor="white",
    shapes=shapes, annotations=annotations,
    **layout)

fig.write_html("out.html")
